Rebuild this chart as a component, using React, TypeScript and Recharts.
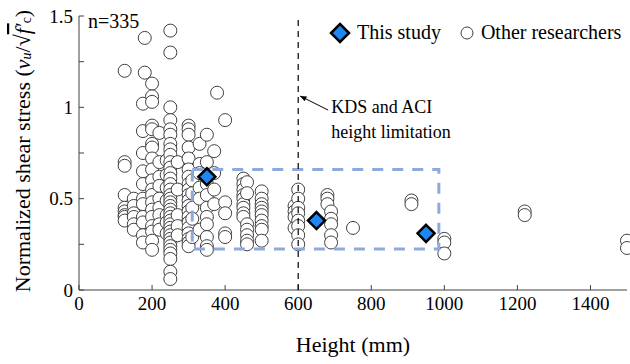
import {
  ScatterChart,
  Scatter,
  XAxis,
  YAxis,
  ReferenceLine,
  ReferenceArea,
  Label,
} from "recharts";

// heights (mm) of the other researchers' specimens, with the stresses found at each
const otherHeights = [
  125, 150, 175, 180, 200, 220, 240, 250, 270, 300, 310, 330, 350, 370, 378,
  400, 450, 460, 500, 590, 600, 680, 690, 750, 910, 1000, 1220, 1500,
];
const otherStresses = [
  [1.2, 0.7, 0.68, 0.52, 0.45, 0.43, 0.41, 0.4, 0.38],
  [0.5, 0.46, 0.42, 0.4, 0.36, 0.33],
  [1.02, 0.87, 0.75, 0.65, 0.58, 0.5, 0.47, 0.4, 0.37, 0.3, 0.26],
  [1.38, 1.19],
  [1.13, 1.06, 1.03, 0.9, 0.88, 0.8, 0.78, 0.72, 0.66, 0.6, 0.55, 0.52, 0.48, 0.44, 0.4, 0.35, 0.32, 0.27, 0.22],
  [0.86, 0.7, 0.62, 0.57, 0.5, 0.45, 0.41, 0.36, 0.33],
  [0.71, 0.63, 0.56, 0.49, 0.41, 0.37, 0.31],
  [1.42, 1.3, 1.0, 0.93, 0.88, 0.85, 0.8, 0.77, 0.74, 0.7, 0.67, 0.64, 0.61, 0.58, 0.55, 0.52, 0.5, 0.48, 0.46, 0.44, 0.42, 0.4, 0.38, 0.36, 0.34, 0.32, 0.3, 0.28, 0.26, 0.24, 0.22, 0.2, 0.17, 0.1, 0.06],
  [0.7, 0.55, 0.41, 0.35, 0.3],
  [0.9, 0.88, 0.85, 0.78, 0.72, 0.66, 0.62, 0.58, 0.55, 0.52, 0.49, 0.46, 0.43, 0.4, 0.37, 0.34, 0.31, 0.28, 0.26, 0.24],
  [0.6, 0.53, 0.45, 0.39, 0.29],
  [0.8, 0.69, 0.64, 0.56, 0.5, 0.33],
  [0.85, 0.7, 0.58, 0.52, 0.45, 0.4, 0.36, 0.29, 0.24, 0.22],
  [0.76, 0.64, 0.55, 0.47],
  [1.08],
  [0.93, 0.48, 0.42, 0.31, 0.29],
  [0.61, 0.58, 0.55, 0.52, 0.5, 0.47, 0.45, 0.42, 0.4],
  [0.59, 0.53, 0.36, 0.33, 0.3, 0.27, 0.25],
  [0.54, 0.5, 0.47, 0.45, 0.43, 0.41, 0.38, 0.35, 0.33, 0.27],
  [0.46, 0.43, 0.4, 0.34],
  [0.55, 0.5, 0.45, 0.42, 0.38, 0.35, 0.3, 0.25],
  [0.52, 0.5, 0.47],
  [0.43, 0.39, 0.36, 0.3, 0.26],
  [0.34],
  [0.49, 0.47],
  [0.28, 0.26, 0.2],
  [0.43, 0.41],
  [0.27, 0.23],
];

const studyHeights = [350, 650, 950];
const studyStresses = [0.62, 0.38, 0.31];

const xTicks = [0, 200, 400, 600, 800, 1000, 1200, 1400];
const yTicks = [0, 0.25, 0.5, 0.75, 1, 1.25, 1.5];

const FONT = "Liberation Serif, serif";

const otherData = otherHeights.flatMap((h, i) =>
  otherStresses[i].map((s) => ({ h, s }))
);
const studyData = studyHeights.map((h, i) => ({ h, s: studyStresses[i] }));

const OpenCircle = (props: any) => (
  <circle cx={props.cx} cy={props.cy} r={6.5} fill="#fff" stroke="#404040" strokeWidth={1} />
);

const Diamond = (props: any) => {
  const { cx, cy } = props;
  const d = 8.5;
  return (
    <polygon
      points={`${cx},${cy - d} ${cx + d},${cy} ${cx},${cy + d} ${cx - d},${cy}`}
      fill="#1E88F0"
      stroke="#000"
      strokeWidth={2.5}
    />
  );
};

// arrow pointing at the 600 mm line, with its note
const ArrowNote = (props: any) => {
  const { x1, y1, x2, y2 } = props;
  const ang = Math.atan2(y2 - y1, x2 - x1);
  const L = 7;
  const p1 = `${x2 - L * Math.cos(ang - 0.4)},${y2 - L * Math.sin(ang - 0.4)}`;
  const p2 = `${x2 - L * Math.cos(ang + 0.4)},${y2 - L * Math.sin(ang + 0.4)}`;
  return (
    <g>
      <line x1={x1} y1={y1} x2={x2} y2={y2} stroke="#000" strokeWidth={1} />
      <polygon points={`${x2},${y2} ${p1} ${p2}`} fill="#000" />
      <text x={x1 + 3} y={y1 + 3} fontFamily={FONT} fontSize={18} fill="#000">
        KDS and ACI
      </text>
      <text x={x1 + 3} y={y1 + 28} fontFamily={FONT} fontSize={18} fill="#000">
        height limitation
      </text>
    </g>
  );
};

const LegendBox = () => (
  <div
    style={{
      position: "absolute",
      top: 21,
      left: 329,
      display: "flex",
      alignItems: "center",
      fontFamily: FONT,
      fontSize: 20,
      color: "#000",
      whiteSpace: "nowrap",
    }}
  >
    <svg width={22} height={22}>
      <polygon points="11,2 20,11 11,20 2,11" fill="#1E88F0" stroke="#000" strokeWidth={2.5} />
    </svg>
    <span style={{ marginLeft: 6 }}>This study</span>
    <svg width={18} height={20} style={{ marginLeft: 17 }}>
      <circle cx={9} cy={10} r={6} fill="#fff" stroke="#404040" />
    </svg>
    <span style={{ marginLeft: 5 }}>Other researchers</span>
  </div>
);

const YTitle = (props: any) => {
  const { viewBox } = props;
  const cx = 22;
  const cy = viewBox.y + viewBox.height / 2 - 2;
  return (
    <text
      x={cx}
      y={cy}
      transform={`rotate(-90, ${cx}, ${cy})`}
      textAnchor="middle"
      dominantBaseline="central"
      fontFamily={FONT}
      fontSize={22}
      fill="#000"
    >
      Normalized shear stress (<tspan fontStyle="italic">v</tspan>
      <tspan fontStyle="italic" fontSize={14} dy={4}>u</tspan>
      <tspan dy={-4}>/√</tspan>
      <tspan fontStyle="italic" textDecoration="overline">f′</tspan>
      <tspan fontSize={14} dy={4}>c</tspan>
      <tspan dy={-4}>)</tspan>
    </text>
  );
};

export default function App() {
  return (
    <div style={{ position: "absolute", left: 0, top: 0, width: 630, height: 364, background: "#fff" }}>
      <ScatterChart
        width={630}
        height={364}
        margin={{ top: 16, right: 3, left: 0, bottom: 0 }}
      >
        <XAxis
          type="number"
          dataKey="h"
          domain={[0, 1500]}
          ticks={xTicks}
          height={74}
          tickSize={-5}
          tickMargin={12}
          stroke="#404040"
          tick={{ fill: "#000", fontFamily: FONT, fontSize: 19 }}
        >
          <Label
            value="Height (mm)"
            position="insideBottom"
            offset={12}
            style={{ fill: "#000", fontFamily: FONT, fontSize: 22 }}
          />
        </XAxis>
        <YAxis
          type="number"
          dataKey="s"
          domain={[0, 1.5]}
          ticks={yTicks}
          width={79}
          tickSize={-5}
          tickMargin={11}
          stroke="#404040"
          tickFormatter={(v: number) => (v % 0.5 === 0 ? String(v) : "")}
          tick={{ fill: "#000", fontFamily: FONT, fontSize: 19 }}
        >
          <Label content={<YTitle />} />
        </YAxis>
        <ReferenceLine
          y={1.5}
          stroke="none"
          label={{
            value: "n=335",
            position: "insideTopLeft",
            offset: 0,
            dx: 9,
            dy: -2,
            style: { fill: "#000", fontFamily: FONT, fontSize: 20 },
          }}
        />
        <Scatter
          name="Other researchers"
          data={otherData}
          shape={<OpenCircle />}
          isAnimationActive={false}
        />
        <ReferenceArea
          x1={310}
          x2={985}
          y1={0.225}
          y2={0.66}
          fill="none"
          fillOpacity={0}
          stroke="#8EA9DB"
          strokeWidth={3}
          strokeDasharray="11 9"
          zIndex={700}
        />
        <ReferenceLine x={600} stroke="#000" strokeDasharray="6 5" strokeWidth={1.2} zIndex={700} />
        <ReferenceLine
          segment={[
            { x: 682, y: 0.985 },
            { x: 605, y: 1.062 },
          ]}
          shape={<ArrowNote />}
          zIndex={700}
        />
        <Scatter
          name="This study"
          data={studyData}
          shape={<Diamond />}
          isAnimationActive={false}
          zIndex={800}
        />
      </ScatterChart>
      <LegendBox />
    </div>
  );
}
